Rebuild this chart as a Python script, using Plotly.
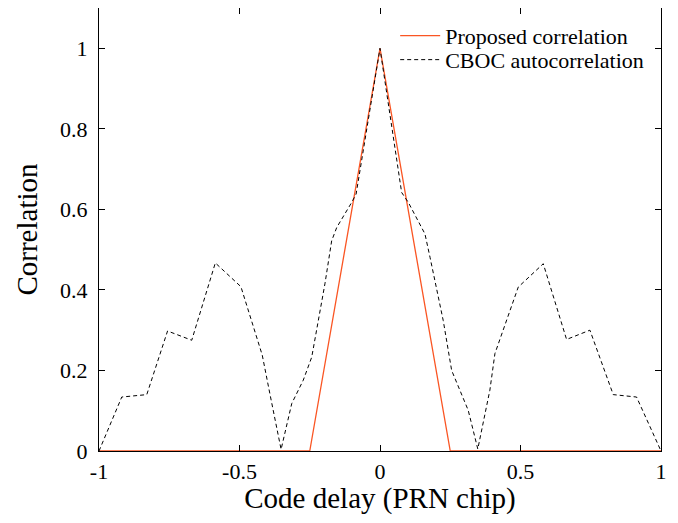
import plotly.graph_objects as go

# Proposed correlation
prop_x = [-1.0, -0.25, 0.0, 0.25, 1.0]
prop_y = [0.0, 0.0, 1.0, 0.0, 0.0]

# CBOC autocorrelation
cboc_x = [-1.0, -0.919, -0.830, -0.756, -0.670, -0.586, -0.495, -0.419, -0.391,
          -0.352, -0.314, -0.273, -0.243, -0.196, -0.172, -0.154, -0.101, -0.085,
          0.0,
          0.077, 0.101, 0.160, 0.178, 0.225, 0.255, 0.314, 0.348, 0.391, 0.409,
          0.492, 0.581, 0.664, 0.747, 0.830, 0.913, 1.0]
cboc_y = [0.0, 0.134, 0.140, 0.298, 0.275, 0.467, 0.408, 0.238, 0.139,
          0.004, 0.118, 0.176, 0.233, 0.415, 0.522, 0.555, 0.617, 0.638,
          1.0,
          0.642, 0.617, 0.539, 0.481, 0.324, 0.200, 0.101, 0.005, 0.151, 0.242,
          0.407, 0.465, 0.277, 0.300, 0.140, 0.134, 0.0]

x_ticks = [-1, -0.5, 0, 0.5, 1]
x_tick_text = ["-1", "-0.5", "0", "0.5", "1"]
y_ticks = [0, 0.2, 0.4, 0.6, 0.8, 1.0]
y_tick_text = ["0", "0.2", "0.4", "0.6", "0.8", "1"]

FONT = "Liberation Serif, Times New Roman, serif"

fig = go.Figure()
fig.add_trace(go.Scatter(x=prop_x, y=prop_y, mode="lines", name="Proposed correlation",
                         line=dict(color="rgb(250,85,35)", width=1.3), legend="legend"))
fig.add_trace(go.Scatter(x=cboc_x, y=cboc_y, mode="lines", name="CBOC autocorrelation",
                         line=dict(color="black", width=1.0, dash="4px,3px"), legend="legend2"))

leg_common = dict(xanchor="left", yanchor="middle", bgcolor="rgba(0,0,0,0)",
                  font=dict(size=22, family=FONT), itemwidth=40)

fig.update_layout(
    width=662, height=507,
    margin=dict(l=91, r=9, t=0, b=64),
    paper_bgcolor="white", plot_bgcolor="white",
    font=dict(family=FONT, color="black", size=22),
    showlegend=True,
    legend=dict(x=0.527, y=0.937, **leg_common),
    legend2=dict(x=0.527, y=0.883, **leg_common),
    xaxis=dict(range=[-1, 1], tickvals=x_ticks, ticktext=x_tick_text,
               showline=True, linecolor="black", linewidth=1.2, mirror="ticks",
               ticks="inside", ticklen=6, tickcolor="black", showgrid=False,
               zeroline=False, tickfont=dict(size=22),
               title=dict(text="Code delay (PRN chip)", font=dict(size=29), standoff=0)),
    yaxis=dict(range=[0, 1.1], tickvals=y_ticks, ticktext=y_tick_text,
               showline=True, linecolor="black", linewidth=1.2, mirror="ticks",
               ticks="inside", ticklen=6, tickcolor="black", showgrid=False,
               zeroline=False, tickfont=dict(size=22), ticklabelstandoff=6,
               title=dict(text="Correlation", font=dict(size=29), standoff=13)),
)

fig.write_html("out.html")
